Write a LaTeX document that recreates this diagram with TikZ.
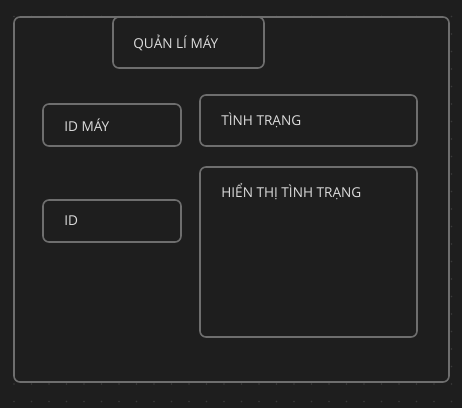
\documentclass[tikz,border=0pt]{standalone}
\usepackage{fontspec}
\setmainfont{Open Sans}
\definecolor{canvas}{HTML}{1E1E1E}
\definecolor{edge}{HTML}{6E6E6E}
\definecolor{ink}{HTML}{DCDCDC}
\definecolor{griddot}{HTML}{3A3A3A}
\begin{document}
\begin{tikzpicture}[
    x=1pt, y=-1pt,
    panel/.style={rectangle, draw=edge, line width=1.6pt, rounded corners=6pt, fill=canvas, inner sep=0pt},
    caption/.style={anchor=west, text=ink, font=\fontsize{13.6}{16}\selectfont, inner sep=0pt},
]
    % background and dot grid
    \fill[canvas] (0,0) rectangle (462,408);
    \useasboundingbox (0,0) rectangle (462,408);
    \foreach \i in {0,...,25} {
        \foreach \j in {-1,...,21} {
            \fill[griddot] ({14+17.5*\i}, {384-17.5*\j}) circle (0.9);
        }
    }

    % outer frame
    \node[panel, minimum width=435pt, minimum height=365pt] (frame) at (231.5, 199.5) {};

    % title
    \node[panel, minimum width=151pt, minimum height=51pt] (title) at (188.5, 42.5) {};
    \node[caption] (titletext) at ([xshift=21pt]title.west) {QUẢN LÍ MÁY};

    % left column
    \node[panel, minimum width=138pt, minimum height=42pt] (machineid) at (112, 125) {};
    \node[caption] (machineidtext) at ([xshift=22pt]machineid.west) {ID MÁY};
    \node[panel, minimum width=138pt, minimum height=42pt] (plainid) at (112, 221) {};
    \node[caption] (plainidtext) at ([xshift=22pt]plainid.west) {ID};

    % right column
    \node[panel, minimum width=217pt, minimum height=51pt] (state) at (308.5, 120.5) {};
    \node[caption] (statetext) at ([xshift=22pt]state.west) {TÌNH TRẠNG};
    \node[panel, minimum width=217pt, minimum height=170pt] (display) at (308.5, 252) {};
    \node[caption] (displaytext) at ([xshift=22pt, yshift=-25pt]display.north west) {HIỂN THỊ TÌNH TRẠNG};
\end{tikzpicture}
\end{document}
